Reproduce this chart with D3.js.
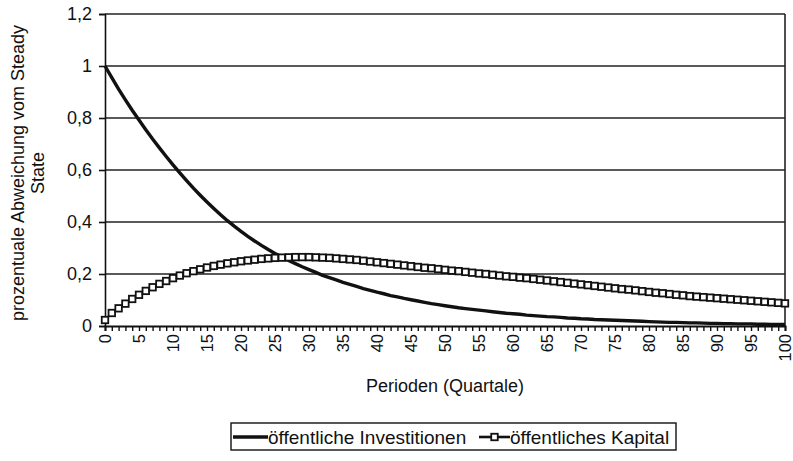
<!DOCTYPE html>
<html>
<head>
<meta charset="utf-8">
<script src="https://cdn.jsdelivr.net/npm/d3@7"></script>
<style>
  body { margin: 0; background: #fff; }
  svg { display: block; font-family: "Liberation Sans", Arial, sans-serif; }
  .tick text { fill: #111; }
</style>
</head>
<body>
<svg id="chart"></svg>
<script>
// Perioden 0..100
const periods = d3.range(0, 101)

// öffentliche Investitionen
const investitionen = [
  1.000, 0.955, 0.911, 0.870, 0.830, 0.792, 0.755, 0.719, 0.685, 0.652,
  0.620, 0.589, 0.559, 0.530, 0.503, 0.477, 0.452, 0.428, 0.405, 0.384,
  0.364, 0.345, 0.327, 0.310, 0.294, 0.279, 0.265, 0.252, 0.240, 0.228,
  0.217, 0.206, 0.195, 0.186, 0.177, 0.168, 0.160, 0.152, 0.144, 0.137,
  0.130, 0.124, 0.117, 0.112, 0.106, 0.101, 0.096, 0.091, 0.086, 0.082,
  0.078, 0.074, 0.070, 0.067, 0.064, 0.061, 0.058, 0.055, 0.052, 0.049,
  0.047, 0.045, 0.042, 0.040, 0.038, 0.036, 0.035, 0.033, 0.031, 0.030,
  0.028, 0.027, 0.025, 0.024, 0.023, 0.022, 0.021, 0.020, 0.019, 0.018,
  0.017, 0.016, 0.015, 0.014, 0.014, 0.013, 0.012, 0.012, 0.011, 0.010,
  0.010, 0.009, 0.009, 0.008, 0.008, 0.008, 0.007, 0.007, 0.006, 0.006,
  0.006
]

// öffentliches Kapital
const kapital = [
  0.023, 0.050, 0.068, 0.086, 0.104, 0.120, 0.135, 0.149, 0.162, 0.173,
  0.184, 0.194, 0.203, 0.211, 0.218, 0.225, 0.231, 0.236, 0.241, 0.245,
  0.249, 0.252, 0.255, 0.258, 0.260, 0.262, 0.263, 0.264, 0.265, 0.265,
  0.265, 0.264, 0.263, 0.262, 0.260, 0.258, 0.256, 0.254, 0.251, 0.248,
  0.245, 0.242, 0.239, 0.236, 0.233, 0.230, 0.227, 0.224, 0.222, 0.219,
  0.216, 0.213, 0.211, 0.208, 0.205, 0.202, 0.200, 0.197, 0.194, 0.191,
  0.189, 0.186, 0.184, 0.181, 0.178, 0.175, 0.172, 0.169, 0.166, 0.163,
  0.160, 0.157, 0.154, 0.151, 0.148, 0.145, 0.142, 0.140, 0.137, 0.134,
  0.131, 0.128, 0.126, 0.123, 0.120, 0.118, 0.115, 0.113, 0.111, 0.109,
  0.107, 0.105, 0.103, 0.101, 0.099, 0.097, 0.095, 0.093, 0.091, 0.089,
  0.087
]

const yTicks = [0, 0.2, 0.4, 0.6, 0.8, 1, 1.2]
const xLabelTicks = d3.range(0, 101, 5)
const seriesNames = ["öffentliche Investitionen", "öffentliches Kapital"]
const xTitle = "Perioden (Quartale)"
const yTitleLines = ["prozentuale Abweichung vom Steady", "State"]

const width = 793, height = 461
const plot = { left: 105, right: 785, top: 14, bottom: 326 }
const ink = "#111"

const svg = d3.select("#chart").attr("width", width).attr("height", height)

const x = d3.scaleLinear().domain([0, 100]).range([plot.left, plot.right])
const y = d3.scaleLinear().domain([0, 1.2]).range([plot.bottom, plot.top])

// gridlines
svg.append("g")
  .selectAll("line").data(yTicks.filter(d => d > 0)).enter().append("line")
  .attr("x1", plot.left).attr("x2", plot.right)
  .attr("y1", d => y(d)).attr("y2", d => y(d))
  .attr("stroke", "#222").attr("stroke-width", 1.6)

// right border
svg.append("line")
  .attr("x1", plot.right).attr("x2", plot.right)
  .attr("y1", plot.top).attr("y2", plot.bottom)
  .attr("stroke", "#222").attr("stroke-width", 1.6)

// y axis
const fmt = d => String(+d.toFixed(1)).replace(".", ",")
const yAxis = svg.append("g")
  .attr("transform", `translate(${plot.left},0)`)
  .call(d3.axisLeft(y).tickValues(yTicks).tickFormat(fmt).tickSize(6).tickPadding(7))
yAxis.select(".domain").attr("stroke", ink).attr("stroke-width", 1.6)
yAxis.selectAll(".tick line").attr("stroke", ink).attr("stroke-width", 1.6)
yAxis.selectAll(".tick text").attr("font-size", 18).attr("font-family", "Liberation Sans, Arial, sans-serif")

// x axis: minor ticks every period, labels every 5
const xAxis = svg.append("g")
  .attr("transform", `translate(0,${plot.bottom})`)
  .call(d3.axisBottom(x).tickValues(periods).tickSize(5).tickFormat(""))
xAxis.select(".domain").attr("stroke", ink).attr("stroke-width", 2)
xAxis.selectAll(".tick line").attr("stroke", ink).attr("stroke-width", 1.4)

svg.append("g").selectAll("text").data(xLabelTicks).enter().append("text")
  .attr("transform", d => `translate(${x(d) + 6},${plot.bottom + 8}) rotate(-90)`)
  .attr("text-anchor", "end")
  .attr("font-size", 16.5)
  .attr("fill", ink)
  .text(d => d)

// series
const line = d3.line().x((d, i) => x(periods[i])).y(d => y(d))

svg.append("path").datum(investitionen)
  .attr("d", line)
  .attr("fill", "none").attr("stroke", ink).attr("stroke-width", 3.4)

svg.append("path").datum(kapital)
  .attr("d", line)
  .attr("fill", "none").attr("stroke", ink).attr("stroke-width", 2)

const ms = 6.5
svg.append("g").selectAll("rect").data(kapital).enter().append("rect")
  .attr("x", (d, i) => x(periods[i]) - ms / 2)
  .attr("y", d => y(d) - ms / 2)
  .attr("width", ms).attr("height", ms)
  .attr("fill", "#fff").attr("stroke", ink).attr("stroke-width", 1.8)

// axis titles
svg.append("text")
  .attr("x", (plot.left + plot.right) / 2).attr("y", 392)
  .attr("text-anchor", "middle").attr("font-size", 18).attr("fill", ink)
  .text(xTitle)

yTitleLines.forEach((t, i) => {
  svg.append("text")
    .attr("transform", `translate(${24 + i * 20},173) rotate(-90)`)
    .attr("text-anchor", "middle").attr("font-size", 18).attr("fill", ink)
    .text(t)
})

// legend
const legend = svg.append("g")
legend.append("rect")
  .attr("x", 231).attr("y", 423).attr("width", 445).attr("height", 27)
  .attr("fill", "#fff").attr("stroke", ink).attr("stroke-width", 1.4)
legend.append("line")
  .attr("x1", 233).attr("x2", 268).attr("y1", 437).attr("y2", 437)
  .attr("stroke", ink).attr("stroke-width", 3.4)
legend.append("text")
  .attr("x", 268).attr("y", 443.5).attr("font-size", 19).attr("fill", ink)
  .text(seriesNames[0])
legend.append("line")
  .attr("x1", 479).attr("x2", 510).attr("y1", 437).attr("y2", 437)
  .attr("stroke", ink).attr("stroke-width", 2.6)
legend.append("rect")
  .attr("x", 494.5 - ms / 2).attr("y", 437 - ms / 2).attr("width", ms).attr("height", ms)
  .attr("fill", "#fff").attr("stroke", ink).attr("stroke-width", 1.8)
legend.append("text")
  .attr("x", 510).attr("y", 443.5).attr("font-size", 19).attr("fill", ink)
  .text(seriesNames[1])
</script>
</body>
</html>
